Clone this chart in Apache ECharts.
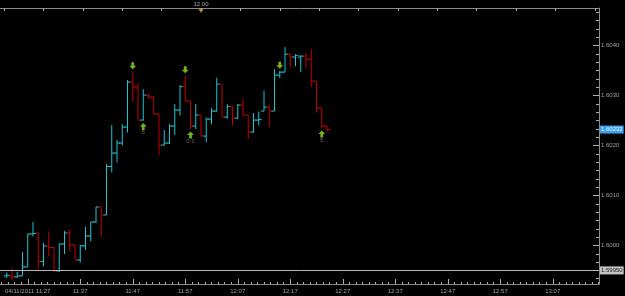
<!DOCTYPE html>
<html>
<head>
<meta charset="utf-8">
<script src="https://cdn.jsdelivr.net/npm/echarts@6/dist/echarts.min.js"></script>
<style>
html, body { margin: 0; padding: 0; background: #000; }
#chart { width: 625px; height: 296px; }
</style>
</head>
<body>
<div id="chart"></div>
<script>
// one bar per minute, EUR quote
var times = ['11:23','11:24','11:25','11:26','11:27','11:28','11:29','11:30','11:31','11:32',
  '11:33','11:34','11:35','11:36','11:37','11:38','11:39','11:40','11:41','11:42',
  '11:43','11:44','11:45','11:46','11:47','11:48','11:49','11:50','11:51','11:52',
  '11:53','11:54','11:55','11:56','11:57','11:58','11:59','12:00','12:01','12:02',
  '12:03','12:04','12:05','12:06','12:07','12:08','12:09','12:10','12:11','12:12',
  '12:13','12:14','12:15','12:16','12:17','12:18','12:19','12:20','12:21','12:22',
  '12:23','12:24'];
var opens = [1.59939,1.59939,1.59937,1.59939,1.59957,1.60023,1.60025,1.59968,1.59999,1.59996,
  1.59949,1.60003,1.60025,1.60001,1.59971,1.59999,1.60019,1.60047,1.60077,1.60061,
  1.60158,1.60185,1.60205,1.60237,1.60327,1.60317,1.60251,1.60301,1.60297,1.60263,
  1.60201,1.60205,1.60239,1.60271,1.60318,1.60289,1.60239,1.60261,1.60219,1.60253,
  1.60269,1.60323,1.60257,1.60278,1.60255,1.60281,1.60261,1.60227,1.60251,1.60269,
  1.60277,1.60269,1.60341,1.60347,1.60383,1.60377,1.60377,1.60379,1.60373,1.60329,
  1.60275,1.60239];
var closes = [1.59940,1.59937,1.59939,1.59957,1.60023,1.60024,1.59968,1.59999,1.59996,1.59949,
  1.60003,1.60025,1.60001,1.59971,1.59999,1.60019,1.60047,1.60077,1.60061,1.60158,
  1.60185,1.60205,1.60237,1.60327,1.60317,1.60251,1.60301,1.60297,1.60263,1.60201,
  1.60205,1.60239,1.60271,1.60318,1.60289,1.60239,1.60261,1.60219,1.60253,1.60269,
  1.60323,1.60257,1.60278,1.60255,1.60281,1.60261,1.60227,1.60251,1.60252,1.60277,
  1.60269,1.60341,1.60347,1.60383,1.60378,1.60380,1.60379,1.60373,1.60329,1.60275,
  1.60239,1.60232];
var lows = [1.59935,1.59931,1.59935,1.59939,1.59957,1.60018,1.59953,1.59958,1.59978,1.59947,
  1.59947,1.59983,1.59988,1.59970,1.59966,1.59991,1.60008,1.60045,1.60018,1.60061,
  1.60146,1.60166,1.60200,1.60226,1.60288,1.60251,1.60250,1.60295,1.60263,1.60181,
  1.60200,1.60203,1.60221,1.60260,1.60288,1.60233,1.60233,1.60218,1.60207,1.60243,
  1.60268,1.60257,1.60254,1.60240,1.60253,1.60260,1.60213,1.60226,1.60240,1.60269,
  1.60237,1.60269,1.60335,1.60347,1.60357,1.60359,1.60347,1.60355,1.60317,1.60266,
  1.60235,1.60228];
var highs = [1.59946,1.59955,1.59947,1.59987,1.60023,1.60047,1.60025,1.60005,1.60028,1.59996,
  1.60003,1.60029,1.60031,1.60001,1.60001,1.60037,1.60047,1.60077,1.60077,1.60163,
  1.60241,1.60211,1.60243,1.60331,1.60348,1.60325,1.60313,1.60303,1.60298,1.60263,
  1.60231,1.60243,1.60283,1.60321,1.60340,1.60289,1.60283,1.60261,1.60256,1.60275,
  1.60336,1.60323,1.60283,1.60278,1.60283,1.60293,1.60261,1.60265,1.60268,1.60310,
  1.60281,1.60353,1.60349,1.60397,1.60383,1.60383,1.60381,1.60385,1.60393,1.60329,
  1.60275,1.60240];

// signal arrows (bar times) and the small notes under the buy arrows
var sellSignals = ['11:47','11:57','12:15'];
var buySignals = ['11:49','11:58','12:23'];
var buyNotes = ['6','0.1','5'];

var xTickLabels = ['04/11/2011 11:27','11:37','11:47','11:57','12:07','12:17','12:27','12:37','12:47','12:57','13:07'];
var yTickLabels = ['1.6000','1.6010','1.6020','1.6030','1.6040'];
var refLevel = 1.5995;

var upColor = '#1fc6d0';
var downColor = '#c00000';
var axisColor = '#8a8a8a';
var tickColor = '#b0b0b0'; // ticks land on half pixels, so a bit brighter
var textColor = '#a0a0a0';
var font = 'Liberation Sans';

function toMin(s) {
  var p = s.split(' ').pop().split(':');
  return +p[0] * 60 + +p[1];
}

var xMin = 720 - 201 / 5.25;
var xMax = xMin + 599 / 5.25;
var yMin = 1.599228, yMax = 1.604754;

var majorTimes = xTickLabels.map(toMin);
var minorTimes = [];
for (var t = majorTimes[0] - 5; t < xMax; t += 1.25) {
  if (t > xMin && (t - majorTimes[0]) % 10 !== 0) minorTimes.push(t);
}
var topTimes = [];
for (var t2 = 682.5; t2 < xMax; t2 += 7.5) topTimes.push(t2);

var yMajor = yTickLabels.map(Number);
var yMinor = [];
for (var k = -4; k <= 28; k++) {
  var v = 1.6 + k * 0.001 / 6;
  if (v > yMin && v < yMax && k % 6 !== 0) yMinor.push(v);
}

var ohlc = times.map(function (s, i) {
  return [toMin(s), opens[i], closes[i], lows[i], highs[i]];
});
var sellPts = sellSignals.map(function (s) {
  var i = times.indexOf(s);
  return [toMin(s), highs[i]];
});
var buyPts = buySignals.map(function (s, j) {
  var i = times.indexOf(s);
  return { value: [toMin(s), lows[i]], note: buyNotes[j] };
});

function renderOHLC(params, api) {
  var x = api.value(0);
  var o = api.coord([x, api.value(1)]);
  var c = api.coord([x, api.value(2)]);
  var l = api.coord([x, api.value(3)]);
  var h = api.coord([x, api.value(4)]);
  var color = api.value(2) >= api.value(1) ? upColor : downColor;
  var st = { stroke: color, lineWidth: 1 };
  return {
    type: 'group',
    children: [
      { type: 'line', shape: { x1: h[0], y1: h[1], x2: l[0], y2: l[1] }, style: st },
      { type: 'line', shape: { x1: o[0] - 3, y1: o[1], x2: o[0], y2: o[1] }, style: st },
      { type: 'line', shape: { x1: c[0], y1: c[1], x2: c[0] + 3, y2: c[1] }, style: st }
    ]
  };
}

var chart = echarts.init(document.getElementById('chart'));
var option = {
  backgroundColor: '#000',
  animation: false,
  grid: { left: 0, right: 26, top: 8, bottom: 12 },
  xAxis: [
    {
      type: 'value', position: 'bottom', min: xMin, max: xMax,
      axisLine: { lineStyle: { color: axisColor } },
      axisTick: { inside: true, length: 5, customValues: majorTimes, lineStyle: { color: tickColor } },
      axisLabel: {
        customValues: majorTimes, color: textColor, fontSize: 6, fontFamily: font, margin: 4,
        formatter: function (v) { return xTickLabels[majorTimes.indexOf(Math.round(v))] || ''; }
      },
      splitLine: { show: false }
    },
    {
      type: 'value', position: 'bottom', min: xMin, max: xMax,
      axisLine: { show: false },
      axisTick: { show: true, inside: true, length: 2, customValues: minorTimes, lineStyle: { color: tickColor } },
      axisLabel: { show: false },
      splitLine: { show: false }
    },
    {
      type: 'value', position: 'top', min: xMin, max: xMax,
      axisLine: { lineStyle: { color: axisColor } },
      axisTick: { inside: true, length: 3, customValues: topTimes, lineStyle: { color: tickColor } },
      axisLabel: {
        customValues: [720], color: textColor, fontSize: 6, fontFamily: font, margin: 1,
        formatter: function () { return '12:00'; }
      },
      splitLine: { show: false }
    }
  ],
  yAxis: [
    {
      type: 'value', position: 'right', min: yMin, max: yMax,
      axisLine: { show: true, lineStyle: { color: axisColor } },
      axisTick: { show: true, inside: true, length: 6, customValues: yMajor, lineStyle: { color: tickColor } },
      axisLabel: {
        customValues: yMajor, color: textColor, fontSize: 6, fontFamily: font, margin: 2,
        formatter: function (v) { return v.toFixed(4); }
      },
      splitLine: { show: false }
    },
    {
      type: 'value', position: 'right', min: yMin, max: yMax, offset: 0,
      axisLine: { show: false },
      axisTick: { show: true, inside: true, length: 3, customValues: yMinor, lineStyle: { color: tickColor } },
      axisLabel: { show: false },
      splitLine: { show: false }
    }
  ],
  series: [
    {
      type: 'custom',
      xAxisIndex: 0, yAxisIndex: 0,
      renderItem: renderOHLC,
      data: ohlc,
      encode: { x: 0, y: [1, 2, 3, 4] },
      markLine: {
        silent: true,
        precision: 5,
        symbol: ['none', 'none'],
        data: [
          {
            yAxis: refLevel,
            lineStyle: { color: '#b8b8b8', width: 1, type: 'solid' },
            label: {
              position: 'end', distance: 1, formatter: refLevel.toFixed(5),
              fontSize: 6, fontFamily: font, color: '#202020',
              backgroundColor: '#c4c4c4', padding: [1, 1]
            }
          },
          {
            yAxis: closes[closes.length - 1],
            lineStyle: { color: 'rgba(0,0,0,0)', width: 1 },
            label: {
              position: 'end', distance: 1, formatter: closes[closes.length - 1].toFixed(5),
              fontSize: 6, fontFamily: font, color: '#eaf4ff',
              backgroundColor: '#3d9ff0', padding: [1, 1]
            }
          }
        ]
      }
    },
    {
      type: 'scatter',
      xAxisIndex: 1, yAxisIndex: 1,
      symbol: 'path://M3,0 L7,0 L7,5 L10,5 L5,10 L0,5 L3,5 Z',
      symbolSize: [7, 7],
      symbolOffset: [0, -6],
      itemStyle: { color: '#92dc22' },
      data: sellPts
    },
    {
      type: 'scatter',
      xAxisIndex: 1, yAxisIndex: 1,
      symbol: 'path://M5,0 L10,5 L7,5 L7,10 L3,10 L3,5 L0,5 Z',
      symbolSize: [7, 7],
      symbolOffset: [0, 6],
      itemStyle: { color: '#92dc22' },
      label: {
        show: true, position: 'inside', offset: [0, 6],
        fontSize: 6, fontFamily: font, color: '#7a7a7a',
        formatter: function (p) { return p.data.note; }
      },
      data: buyPts
    },
    {
      // time marker on the top axis
      type: 'scatter',
      xAxisIndex: 2, yAxisIndex: 0,
      symbol: 'triangle', symbolRotate: 180, symbolSize: [5, 4],
      symbolOffset: [0, 3],
      itemStyle: { color: '#e0a020' },
      data: [[720, yMax]]
    }
  ]
};
chart.setOption(option);
</script>
</body>
</html>
